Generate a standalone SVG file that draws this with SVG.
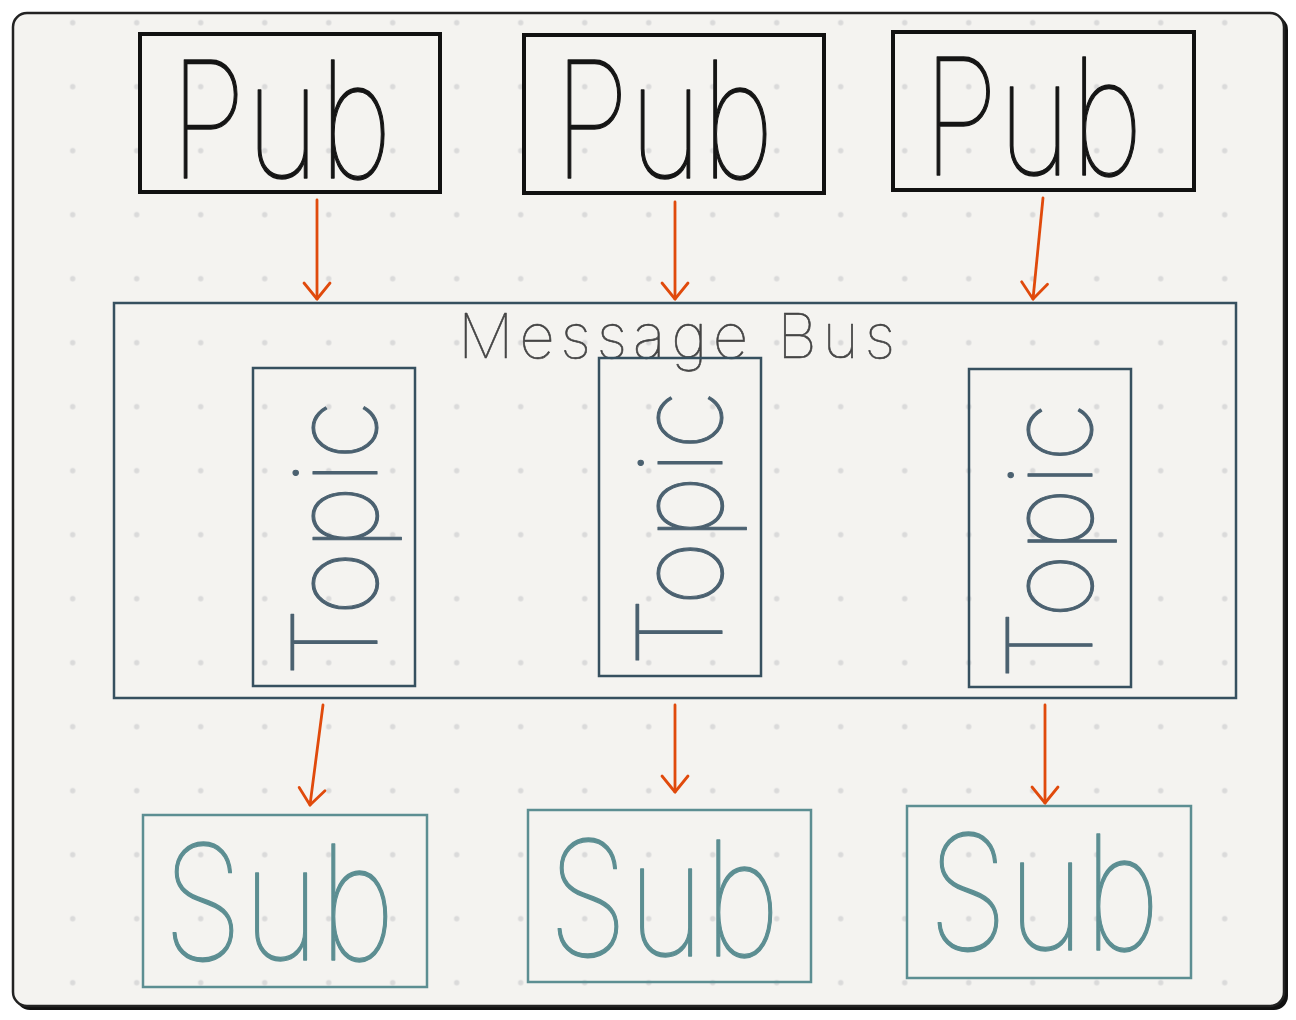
<svg xmlns="http://www.w3.org/2000/svg" width="1296" height="1020" viewBox="0 0 1296 1020">
<defs>
<pattern id="dots" x="40.7" y="-9.3" width="64" height="64" patternUnits="userSpaceOnUse">
<circle cx="32" cy="32" r="2.7" fill="#dadada"/>
</pattern>
<marker id="arr" viewBox="-18 -18 36 36" refX="0" refY="0" markerWidth="36" markerHeight="36" markerUnits="userSpaceOnUse" orient="auto">
<path d="M-16,-13 L0,0 L-16,13" fill="none" stroke="#e04a0c" stroke-width="2.8" stroke-linecap="round" stroke-linejoin="round"/>
</marker>
<style>
.pub{fill:none;stroke:#111;stroke-width:4}
.bus{fill:none;stroke:#36505f;stroke-width:2.5}
.sub{fill:none;stroke:#5c8e92;stroke-width:2.5}
text{font-family:Inter,"Liberation Sans",sans-serif;font-weight:100;stroke-linejoin:round}
.t-pub{font-size:162px;fill:#151515;stroke:#151515;stroke-width:1.3}
.t-sub{font-size:160px;fill:#5c8e92;stroke:#5c8e92;stroke-width:1.3}
.t-topic{font-size:118px;fill:#4b6170;stroke:#4b6170;stroke-width:1.1}
.t-bus{font-size:62px;fill:#454545;stroke:#454545;stroke-width:0.6}
.conn{stroke:#e04a0c;stroke-width:2.8;fill:none;stroke-linecap:round}
</style>
</defs>
<rect x="16" y="16" width="1272" height="994" rx="14" fill="#111"/>
<rect x="13" y="13" width="1271" height="993" rx="14" fill="#f4f3f0" stroke="#222" stroke-width="2.5"/>
<rect x="15" y="15" width="1267" height="989" rx="12" fill="url(#dots)"/>

<g id="bus">
<rect class="bus" x="114" y="303" width="1122" height="395"/>
<text class="t-bus" x="458" y="358" textLength="437" lengthAdjust="spacing">Message Bus</text>
</g>

<g id="pub1"><rect class="pub" x="140" y="34" width="300" height="158"/><text class="t-pub" x="170" y="178" textLength="222" lengthAdjust="spacingAndGlyphs">Pub</text></g>
<g id="pub2"><rect class="pub" x="524" y="35" width="300" height="158"/><text class="t-pub" x="554" y="178" textLength="220" lengthAdjust="spacingAndGlyphs">Pub</text></g>
<g id="pub3"><rect class="pub" x="893" y="32" width="301" height="158"/><text class="t-pub" x="923" y="175" textLength="220" lengthAdjust="spacingAndGlyphs">Pub</text></g>

<g id="topic1"><rect class="bus" x="253" y="368" width="162" height="318"/><text class="t-topic" transform="translate(377 677) rotate(-90)" textLength="277" lengthAdjust="spacingAndGlyphs">Topic</text></g>
<g id="topic2"><rect class="bus" x="599" y="358" width="162" height="318"/><text class="t-topic" transform="translate(722 667) rotate(-90)" textLength="277" lengthAdjust="spacingAndGlyphs">Topic</text></g>
<g id="topic3"><rect class="bus" x="969" y="369" width="162" height="318"/><text class="t-topic" transform="translate(1092 680) rotate(-90)" textLength="278" lengthAdjust="spacingAndGlyphs">Topic</text></g>

<g id="sub1"><rect class="sub" x="143" y="815" width="284" height="172"/><text class="t-sub" x="163" y="960" textLength="232" lengthAdjust="spacingAndGlyphs">Sub</text></g>
<g id="sub2"><rect class="sub" x="528" y="810" width="283" height="172"/><text class="t-sub" x="548" y="956" textLength="232" lengthAdjust="spacingAndGlyphs">Sub</text></g>
<g id="sub3"><rect class="sub" x="907" y="806" width="284" height="172"/><text class="t-sub" x="928" y="950" textLength="232" lengthAdjust="spacingAndGlyphs">Sub</text></g>

<g id="connectors">
<line class="conn" x1="317" y1="200" x2="317" y2="299" marker-end="url(#arr)"/>
<line class="conn" x1="675" y1="202" x2="675" y2="299" marker-end="url(#arr)"/>
<line class="conn" x1="1043" y1="198" x2="1033" y2="299" marker-end="url(#arr)"/>
<line class="conn" x1="323" y1="705" x2="310" y2="805" marker-end="url(#arr)"/>
<line class="conn" x1="675" y1="705" x2="675" y2="792" marker-end="url(#arr)"/>
<line class="conn" x1="1045" y1="705" x2="1045" y2="803" marker-end="url(#arr)"/>
</g>
</svg>
